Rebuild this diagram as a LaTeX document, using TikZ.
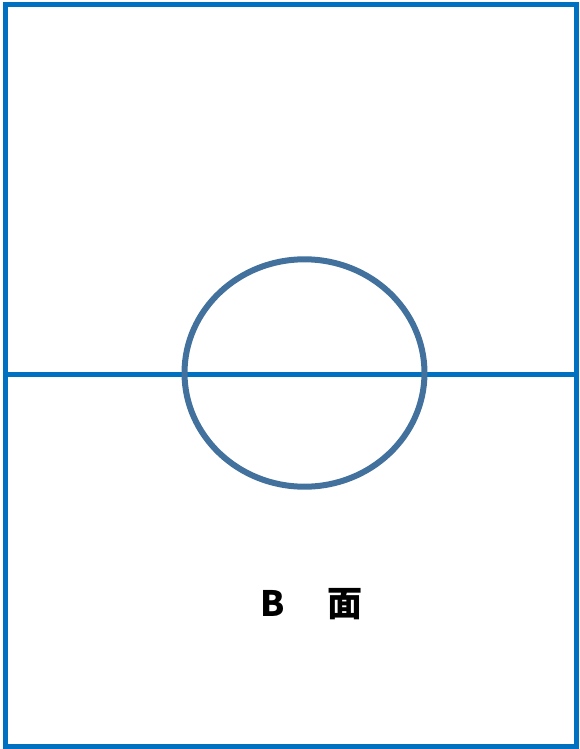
\documentclass[tikz,border=0pt]{standalone}
\usepackage{fontspec}
\usetikzlibrary{shapes.geometric}
\newfontfamily\cjk{Noto Sans CJK SC}
\definecolor{framblue}{HTML}{0070C0}
\definecolor{ringblue}{HTML}{41719C}
\begin{document}
\begin{tikzpicture}[x=1pt,y=-1pt,
  framestyle/.style={draw=framblue,line width=5pt},
  ringstyle/.style={draw=ringblue,line width=6pt},
  labelstyle/.style={font=\cjk\bfseries\fontsize{35}{40}\selectfont,text=black,inner sep=0pt}]
\useasboundingbox (0,0) rectangle (579,749);
\coordinate (tl) at (5.2,4.5);
\coordinate (br) at (576.7,746.7);
\draw[framestyle] (tl) rectangle (br);
\coordinate (ml) at (5.2,374.5);
\coordinate (mr) at (576.7,374.5);
\draw[framestyle] (ml) -- (mr);
\node[ringstyle,ellipse,minimum width=240pt,minimum height=227.4pt,inner sep=0pt] (ring) at (304.5,373) {};
\node[labelstyle,anchor=base] (lbl) at (311.5,616) {B\hspace{42pt}面};
\end{tikzpicture}
\end{document}
